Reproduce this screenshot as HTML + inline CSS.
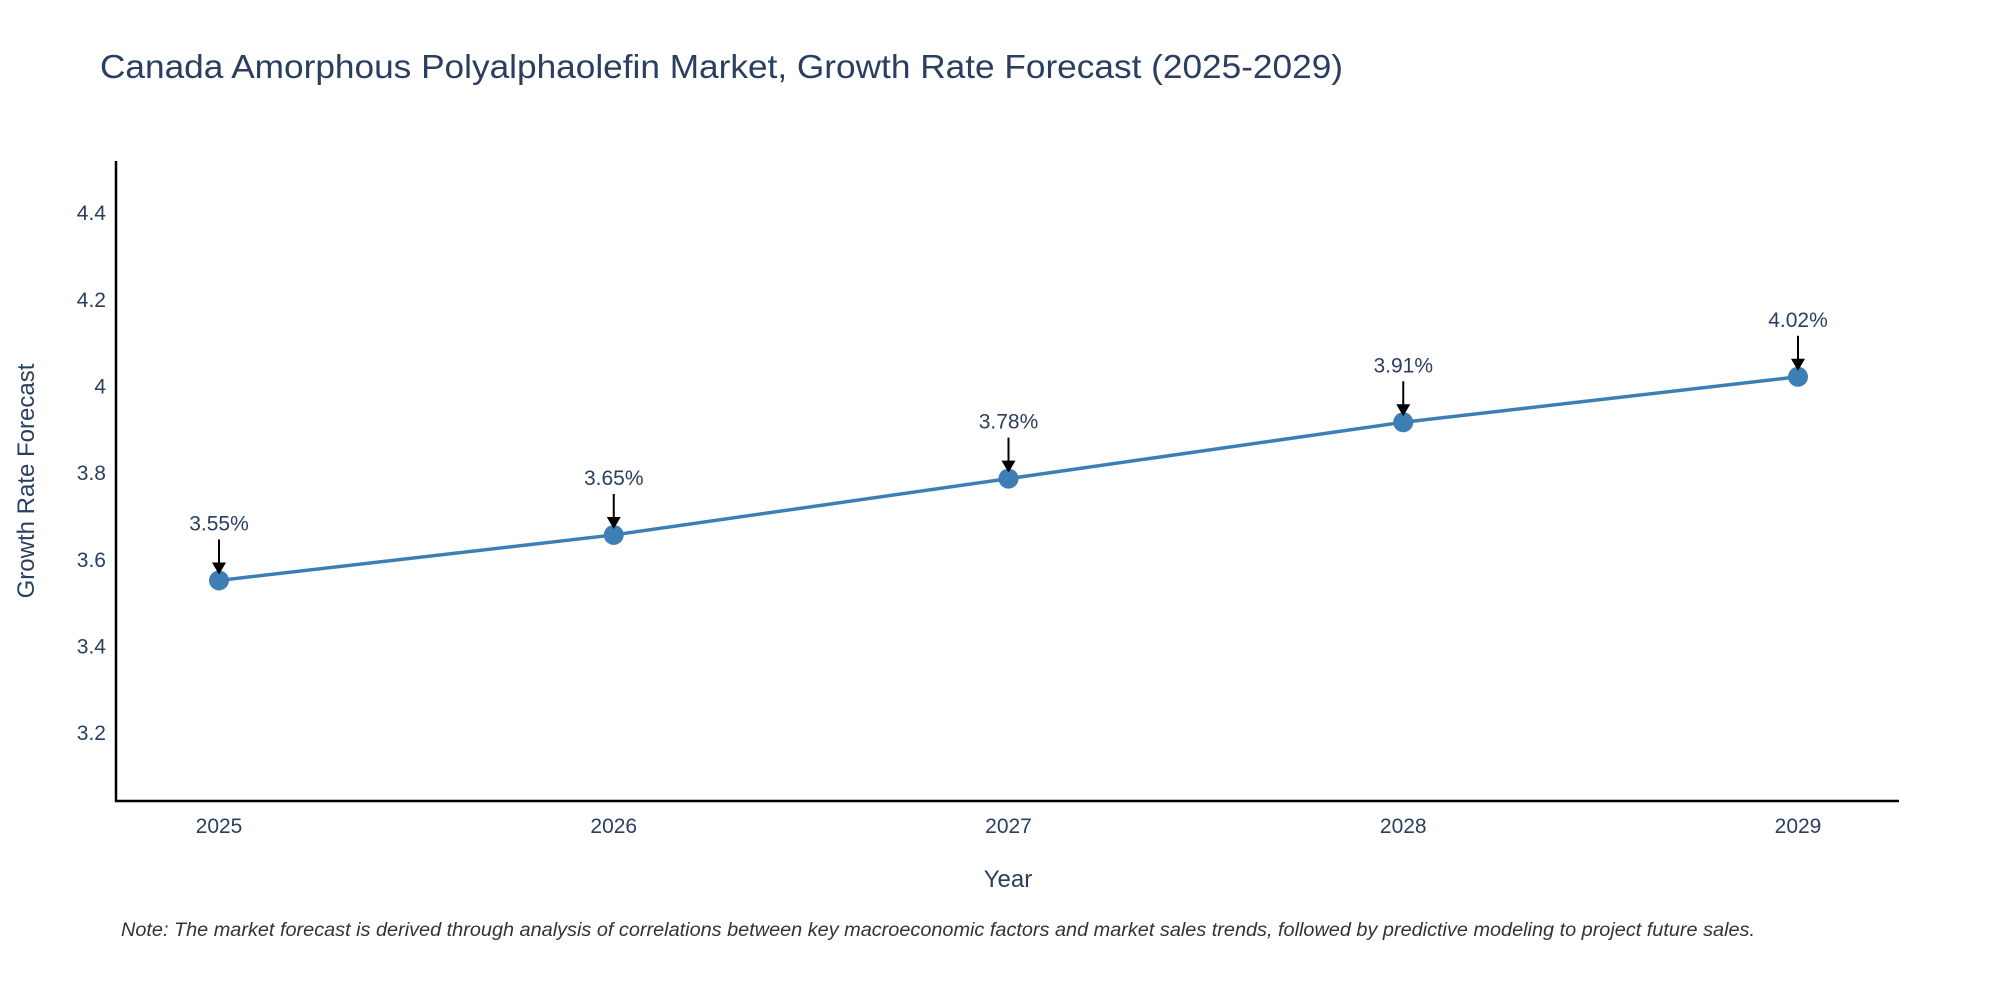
<!DOCTYPE html>
<html><head><meta charset="utf-8"><style>
body{margin:0;background:#fff;}
svg text{font-family:"Liberation Sans","DejaVu Sans",sans-serif;}
</style></head><body>
<svg id="chart" width="2000" height="1000" xmlns="http://www.w3.org/2000/svg">
<text x="100" y="78" font-size="33" fill="#2a3f5f" textLength="1243" lengthAdjust="spacingAndGlyphs">Canada Amorphous Polyalphaolefin Market, Growth Rate Forecast (2025-2029)</text>
<g id="yticks"></g><g id="xticks"></g><g id="series"></g>
<line x1="116" y1="161" x2="116" y2="802" stroke="#000" stroke-width="2.5"/>
<line x1="115" y1="801" x2="1899" y2="801" stroke="#000" stroke-width="2.5"/>
<text transform="translate(34,481) rotate(-90)" text-anchor="middle" font-size="24" fill="#2a3f5f">Growth Rate Forecast</text>
<text x="1008" y="887" text-anchor="middle" font-size="24" fill="#2a3f5f">Year</text>
<text x="121" y="936" font-size="19" font-style="italic" fill="#333" textLength="1634" lengthAdjust="spacingAndGlyphs">Note: The market forecast is derived through analysis of correlations between key macroeconomic factors and market sales trends, followed by predictive modeling to project future sales.</text>
</svg>
<script>
const years=[2025,2026,2027,2028,2029];
const growth=[3.55,3.655,3.785,3.915,4.02];
const labels=["3.55%","3.65%","3.78%","3.91%","4.02%"];
const yTickVals=[3.2,3.4,3.6,3.8,4,4.2,4.4];
const yTickLabels=["3.2","3.4","3.6","3.8","4","4.2","4.4"];
const NS="http://www.w3.org/2000/svg";
function yS(v){return 801-(v-3.041)*(640/1.477);}
function xS(yr){return 219+(yr-2025)*(1798-219)/4;}
function mk(t,a,p){const e=document.createElementNS(NS,t);for(const k in a)e.setAttribute(k,a[k]);p.appendChild(e);return e;}
const yt=document.getElementById('yticks');
yTickVals.forEach((v,i)=>{const t=mk('text',{x:106,y:yS(v)+8,'text-anchor':'end','font-size':21,fill:'#2a3f5f'},yt);t.textContent=yTickLabels[i];

});
const xt=document.getElementById('xticks');
years.forEach(y=>{const t=mk('text',{x:xS(y),y:833,'text-anchor':'middle','font-size':21,fill:'#2a3f5f'},xt);t.textContent=y;

});
const s=document.getElementById('series');
const pl=mk('polyline',{points:years.map((y,i)=>xS(y)+','+yS(growth[i])).join(' '),fill:'none',stroke:'#3d7fb5','stroke-width':3.5},s);


years.forEach((y,i)=>{const cx=xS(y),cy=yS(growth[i]);
const c=mk('circle',{cx:cx,cy:cy,r:10,fill:'#3d7fb5'},s);


const l=mk('line',{x1:cx,y1:cy-41,x2:cx,y2:cy-16,stroke:'#000','stroke-width':2},s);


const h=mk('polygon',{points:`${cx-7},${cy-18} ${cx+7},${cy-18} ${cx},${cy-6}`,fill:'#000'},s);


const t=mk('text',{x:cx,y:cy-50,'text-anchor':'middle','font-size':21,fill:'#2a3f5f'},s);t.textContent=labels[i];

});
</script>
</body></html>
